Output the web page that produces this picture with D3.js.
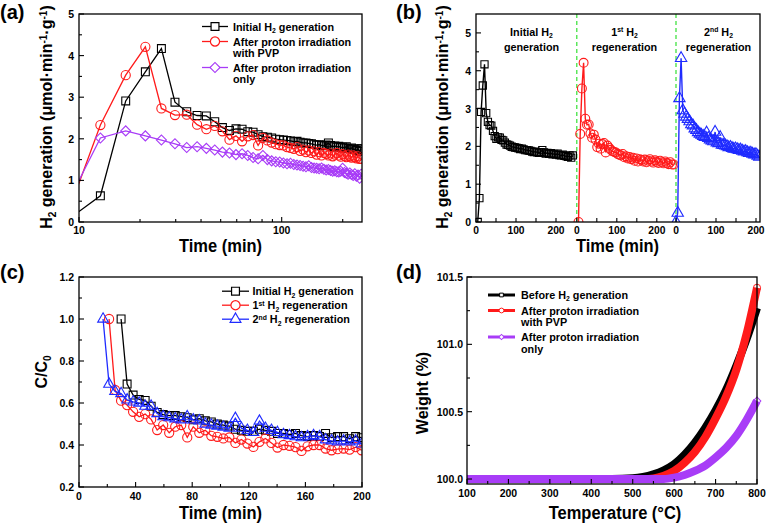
<!DOCTYPE html>
<html><head><meta charset="utf-8">
<script src="https://cdn.jsdelivr.net/npm/d3@7"></script>
<style>body{margin:0;background:#fff}svg{display:block}text{font-family:"Liberation Sans",Arial,sans-serif;font-weight:bold;fill:#000}</style>
</head><body><svg id="c" width="767" height="526"></svg>
<script>
// ---------------- DATA ----------------
const timeA = [8.5,12.75,17,21.25,25.5,29.75,34,38.25,42.5,46.75,51,55.25,59.5,63.75,68,72.25,76.5,80.75,85,89.25,93.5,97.75,102,106.25,110.5,114.75,119,123.25,127.5,131.75,136,140.25,144.5,148.75,153,157.25,161.5,165.75,170,174.25,178.5,182.75,187,191.25,195.5,199.75,204,208.25,212.5,216.75,221,225.25,229.5,233.75,238,242.25,246.5];
const initialH2 = [0,0.63,2.91,3.61,4.17,2.88,2.65,2.56,2.55,2.41,2.27,2.20,2.24,2.23,2.17,2.16,2.10,2.05,2.04,2.02,1.99,1.98,1.97,1.96,1.95,1.93,1.94,1.92,1.90,1.90,1.89,1.88,1.86,1.85,1.86,1.84,1.83,1.85,1.90,1.84,1.81,1.83,1.80,1.82,1.79,1.80,1.78,1.81,1.77,1.76,1.78,1.75,1.74,1.72,1.76,1.70,1.76];
const withPVP = [0,2.33,3.53,4.21,2.73,2.57,2.58,2.34,2.23,2.31,2.18,1.98,2.07,1.94,2.06,2.09,1.84,2.02,1.96,1.91,1.87,1.85,1.84,1.80,1.78,1.76,1.80,1.71,1.74,1.68,1.72,1.66,1.70,1.62,1.68,1.60,1.66,1.64,1.60,1.65,1.58,1.62,1.66,1.60,1.57,1.63,1.59,1.56,1.62,1.58,1.55,1.60,1.56,1.53,1.58,1.52,1.52];
const irradOnly = [0.32,2.02,2.19,2.07,1.97,1.88,1.79,1.81,1.77,1.73,1.68,1.66,1.62,1.64,1.60,1.55,1.52,1.60,1.50,1.47,1.45,1.44,1.42,1.40,1.41,1.38,1.37,1.36,1.34,1.33,1.35,1.31,1.30,1.29,1.28,1.30,1.27,1.25,1.26,1.24,1.22,1.23,1.21,1.20,1.22,1.29,1.19,1.17,1.15,1.18,1.14,1.12,1.16,1.10,1.13,1.05,1.15];
// panel (b): 2nd regeneration
const timeRegen2 = [0,4.25,8.5,12.75,17,21.25,25.5,29.75,34,38.25,42.5,46.75,51,55.25,59.5,63.75,68,72.25,76.5,80.75,85,89.25,93.5,97.75,102,106.25,110.5,114.75,119,123.25,127.5,131.75,136,140.25,144.5,148.75,153,157.25,161.5,165.75,170,174.25,178.5,182.75,187,191.25,195.5,199.75,204,208.25];
const regen2 = [0,0.24,3.27,4.33,2.95,2.86,2.78,2.72,2.66,2.58,2.55,2.47,2.43,2.37,2.33,2.30,2.27,2.24,2.36,2.22,2.18,2.15,2.13,2.38,2.10,2.08,2.24,2.04,2.03,2.02,2.00,1.97,1.98,1.95,1.93,1.94,1.92,1.90,1.91,1.88,1.86,1.87,1.84,1.82,1.83,1.80,1.78,1.79,1.75,1.72];
const segmentStart = [0,252,500];     // run start on the joined time axis of (b)
const runShift = 4.25;                // time offset of runs 1-2 in (b)
// panel (c)
const timeC_initial = timeA.slice(5, 46);
const cInitial = [1.0,0.69,0.638,0.617,0.612,0.585,0.555,0.545,0.54,0.54,0.535,0.53,0.52,0.525,0.515,0.51,0.50,0.495,0.49,0.475,0.47,0.465,0.465,0.475,0.47,0.465,0.455,0.455,0.45,0.455,0.445,0.44,0.445,0.44,0.455,0.435,0.44,0.44,0.43,0.44,0.435];
const timeC_regen1 = timeA.slice(3, 46);
const cRegen1 = [1.0,0.662,0.611,0.59,0.558,0.534,0.547,0.522,0.471,0.495,0.458,0.487,0.495,0.436,0.487,0.458,0.47,0.444,0.439,0.431,0.436,0.41,0.426,0.407,0.391,0.415,0.431,0.41,0.388,0.40,0.396,0.39,0.372,0.394,0.40,0.40,0.383,0.375,0.38,0.383,0.378,0.39,0.375];
const timeC_regen2 = timeA.slice(2, 46);
const cRegen2 = [1.0,0.69,0.655,0.645,0.615,0.605,0.60,0.585,0.585,0.55,0.535,0.53,0.525,0.52,0.535,0.52,0.515,0.50,0.495,0.49,0.485,0.48,0.527,0.48,0.47,0.46,0.514,0.48,0.47,0.46,0.45,0.445,0.44,0.435,0.44,0.445,0.44,0.425,0.42,0.415,0.42,0.415,0.42,0.405];
// panel (d)
const tempD = [100,200,300,400,450,500,525,550,575,600,625,650,675,700,725,750,775,800];
const wBefore = [100,100,100,100,100,100.005,100.015,100.035,100.065,100.11,100.18,100.27,100.38,100.51,100.66,100.84,101.04,101.27];
const wPVP = [100,100,100,100,100,100,100,100.005,100.025,100.06,100.12,100.2,100.31,100.45,100.61,100.81,101.08,101.42];
const wOnly = [100,100,100,100,100,100,100,100,100,100.01,100.03,100.06,100.1,100.16,100.23,100.32,100.44,100.58];
// ticks
const yTicksA = [0,1,2,3,4,5], xLabelsA = [10,100];
const yTicksB = [0,1,2,3,4,5], xLabelsB = [0,100,200], xTicksB = [0,50,100,150,200];
const yTicksC = [0.2,0.4,0.6,0.8,1.0,1.2], xTicksC = [0,40,80,120,160,200];
const yTicksD = [100.0,100.5,101.0,101.5], xTicksD = [100,200,300,400,500,600,700,800];

// ---------------- DRAW ----------------
const svg = d3.select("#c");
const BLACK="#000", RED="#ff1a1a", PURPLE="#a83cf7", BLUE="#1f2bff", GREEN="#33e033";

function rich(t, parts, fs){
  let shift=0;
  parts.forEach(p=>{
    const s=p[0], m=p[1]||'n';
    const target = m==='sub'? fs*0.22 : m==='sup'? -fs*0.34 : 0;
    const ts=t.append("tspan").text(s).attr("dy", target-shift);
    if(m!=='n') ts.attr("font-size", fs*0.63);
    shift=target;
  });
  return t;
}
function text(x,y,parts,fs,anchor){
  const t=svg.append("text").attr("x",x).attr("y",y).attr("font-size",fs).attr("text-anchor",anchor||"start");
  return rich(t,parts,fs);
}
function vtext(x,y,parts,fs){
  const t=svg.append("text").attr("transform",`translate(${x},${y}) rotate(-90)`).attr("font-size",fs).attr("text-anchor","middle");
  return rich(t,parts,fs);
}
function xtitle(x,y,s,fs){
  svg.append("text").attr("transform",`translate(${x},${y}) scale(1,1.1)`).attr("font-size",fs).attr("text-anchor","middle").text(s);
}
let clipN=0;
function clip(x0,x1,y0,y1){
  const id="cl"+(clipN++);
  svg.append("clipPath").attr("id",id).append("rect").attr("x",x0).attr("y",y0).attr("width",x1-x0).attr("height",y1-y0);
  return svg.append("g").attr("clip-path",`url(#${id})`);
}
function frame(x0,x1,y0,y1){
  svg.append("rect").attr("x",x0).attr("y",y0).attr("width",x1-x0).attr("height",y1-y0).attr("fill","none").attr("stroke","#000").attr("stroke-width",1.3);
}
function tickX(xs,vals,yb,len){ vals.forEach(v=>svg.append("line").attr("x1",xs(v)).attr("x2",xs(v)).attr("y1",yb).attr("y2",yb-len).attr("stroke","#000").attr("stroke-width",1.1)); }
function tickY(ys,vals,xl,len){ vals.forEach(v=>svg.append("line").attr("y1",ys(v)).attr("y2",ys(v)).attr("x1",xl).attr("x2",xl+len).attr("stroke","#000").attr("stroke-width",1.1)); }

const SQ = d3.symbol().type(d3.symbolSquare);
const CI = d3.symbol().type(d3.symbolCircle);
const TR = d3.symbol().type(d3.symbolTriangle);
function marker(g,x,y,kind,size,color,sw){
  let path, rot=0;
  if(kind==="sq") path=SQ.size(size)();
  else if(kind==="ci") path=CI.size(size)();
  else if(kind==="di"){ path=SQ.size(size)(); rot=45; }
  else path=TR.size(size)();
  g.append("path").attr("d",path).attr("transform",`translate(${x},${y}) rotate(${rot})`)
   .attr("fill","none").attr("stroke",color).attr("stroke-width",sw||1.1);
}
function series(g,xs,ys,ts,vs,color,kind,size,lw){
  const pts=ts.map((t,i)=>[xs(t),ys(vs[i])]);
  g.append("path").attr("d",d3.line()(pts)).attr("fill","none").attr("stroke",color).attr("stroke-width",lw||1.3);
  pts.forEach(p=>marker(g,p[0],p[1],kind,size,color));
}
function legendRow(x0,x1,y,color,kind,size,lw,msw){
  svg.append("line").attr("x1",x0).attr("x2",x1).attr("y1",y).attr("y2",y).attr("stroke",color).attr("stroke-width",lw);
  svg.append("path").attr("d", kind==="ci"?CI.size(size)(): kind==="tr"?TR.size(size)():SQ.size(size)())
   .attr("transform",`translate(${(x0+x1)/2},${y}) rotate(${kind==="di"?45:0})`).attr("fill","#fff").attr("stroke",color).attr("stroke-width",msw||1.2);
}

// ===== Panel (a) =====
{
  const L=79,R=362,T=14,B=222;
  const xs=d3.scaleLog().domain([10,249]).range([L,R]);
  const ys=d3.scaleLinear().domain([0,5]).range([B,T]);
  const g=clip(L,R,T,B);
  series(g,xs,ys,timeA,initialH2,BLACK,"sq",62);
  series(g,xs,ys,timeA,withPVP,RED,"ci",66);
  series(g,xs,ys,timeA,irradOnly,PURPLE,"di",50);
  frame(L,R,T,B);
  tickY(ys,yTicksA,L,5); tickY(ys,d3.range(0.5,5,1),L,3);
  const xt=xs.ticks(); tickX(xs,xt.filter(v=>xLabelsA.includes(v)),B,5); tickX(xs,xt.filter(v=>!xLabelsA.includes(v)),B,3);
  yTicksA.forEach(v=>text(L-5,ys(v)+4,[[String(v)]],10.5,"end"));
  xLabelsA.forEach(v=>text(xs(v),233.5,[[String(v)]],10.5,"middle"));
  xtitle((L+R)/2,251.5,"Time (min)",16.5);
  vtext(52,117,[["H"],["2","sub"],[" generation  (μmol·min"],["-1","sup"],["·g"],["-1","sup"],[")"]],16);
  text(0,19,[["(a)"]],20);
  legendRow(202,228,26.5,BLACK,"sq",62,1.3);
  legendRow(202,228,41.5,RED,"ci",66,1.3);
  legendRow(202,228,67.5,PURPLE,"di",50,1.3);
  text(233,30.5,[["Initial H"],["2","sub"],[" generation"]],10.8);
  text(233,45.5,[["After proton irradiation"]],10.8);
  text(233,56.5,[["with PVP"]],10.8);
  text(233,71.5,[["After proton irradiation"]],10.8);
  text(233,82.5,[["only"]],10.8);
}
// ===== Panel (b) =====
{
  const L=476,R=760,T=14,B=222;
  const xs=d3.scaleLinear().domain([0,710]).range([L,R]);
  const ys=d3.scaleLinear().domain([0,5.5]).range([B,T]);
  const g=clip(L,R,T,B);
  [1,2].forEach(i=>g.append("line").attr("x1",xs(segmentStart[i])).attr("x2",xs(segmentStart[i])).attr("y1",T).attr("y2",B)
     .attr("stroke",GREEN).attr("stroke-width",1.2).attr("stroke-dasharray","4,3"));
  series(g,xs,ys,timeA.map(t=>t-runShift+segmentStart[0]),initialH2,BLACK,"sq",52,1.4);
  series(g,xs,ys,timeA.map(t=>t-runShift+segmentStart[1]),withPVP,RED,"ci",62,1.4);
  series(g,xs,ys,timeRegen2.map(t=>t+segmentStart[2]),regen2,BLUE,"tr",56,1.4);
  frame(L,R,T,B);
  tickY(ys,yTicksB,L,5); tickY(ys,d3.range(0.5,5.5,1),L,3);
  segmentStart.forEach(o=>{
    tickX(xs,xTicksB.map(v=>v+o),B,4);
    xLabelsB.forEach(v=>text(xs(v+o),233.5,[[String(v)]],10.3,"middle"));
  });
  yTicksB.forEach(v=>text(L-5,ys(v)+4,[[String(v)]],10.5,"end"));
  xtitle(617.5,251.5,"Time (min)",16.5);
  vtext(448,117,[["H"],["2","sub"],[" generation  (μmol·min"],["-1","sup"],["·g"],["-1","sup"],[")"]],16);
  text(396,19,[["(b)"]],20);
  text(531.5,35.5,[["Initial H"],["2","sub"]],10.8,"middle");
  text(531.5,50.5,[["generation"]],10.8,"middle");
  text(624.5,35.5,[["1"],["st","sup"],[" H"],["2","sub"]],10.8,"middle");
  text(624.5,50.5,[["regeneration"]],10.8,"middle");
  text(718.5,35.5,[["2"],["nd","sup"],[" H"],["2","sub"]],10.8,"middle");
  text(718.5,50.5,[["regeneration"]],10.8,"middle");
}
// ===== Panel (c) =====
{
  const L=79,R=362,T=277,B=487;
  const xs=d3.scaleLinear().domain([0,200]).range([L,R]);
  const ys=d3.scaleLinear().domain([0.2,1.2]).range([B,T]);
  const g=clip(L,R,T,B);
  series(g,xs,ys,timeC_initial,cInitial,BLACK,"sq",62);
  series(g,xs,ys,timeC_regen1,cRegen1,RED,"ci",66);
  series(g,xs,ys,timeC_regen2,cRegen2,BLUE,"tr",50);
  frame(L,R,T,B);
  tickY(ys,yTicksC,L,5); tickY(ys,d3.range(0.3,1.2,0.2),L,3);
  tickX(xs,xTicksC,B,5); tickX(xs,d3.range(20,200,40),B,3);
  yTicksC.forEach(v=>text(L-5,ys(v)+4,[[v.toFixed(1)]],10.5,"end"));
  xTicksC.forEach(v=>text(xs(v),499.5,[[String(v)]],10.5,"middle"));
  xtitle((L+R)/2,518.5,"Time (min)",16.5);
  vtext(47,372,[["C/C"],["0","sub"]],16);
  text(0,279,[["(c)"]],20);
  legendRow(222,249,291.2,BLACK,"sq",62,1.3);
  legendRow(222,249,305.2,RED,"ci",66,1.3);
  legendRow(222,249,319.2,BLUE,"tr",50,1.3);
  text(252.5,295.2,[["Initial H"],["2","sub"],[" generation"]],10.8);
  text(252.5,309.2,[["1"],["st","sup"],[" H"],["2","sub"],[" regeneration"]],10.8);
  text(252.5,323.2,[["2"],["nd","sup"],[" H"],["2","sub"],[" regeneration"]],10.8);
}
// ===== Panel (d) =====
{
  const L=467,R=757,T=277,B=484;
  const xs=d3.scaleLinear().domain([100,800]).range([L,R]);
  const ys=d3.scaleLinear().domain([99.963,101.5]).range([B,T]);
  const g=clip(L,R+6,T-6,B);
  const line=d3.line().curve(d3.curveMonotoneX);
  [[wBefore,BLACK],[wPVP,RED],[wOnly,PURPLE]].forEach(([vs,c])=>{
    g.append("path").attr("d",line(tempD.map((t,i)=>[xs(t),ys(vs[i])]))).attr("fill","none").attr("stroke",c).attr("stroke-width",8);
  });
  marker(g,xs(800),ys(wPVP[wPVP.length-1]),"ci",40,RED,1);
  marker(g,xs(800),ys(wOnly[wOnly.length-1]),"di",30,PURPLE,1);
  frame(L,R,T,B);
  tickY(ys,yTicksD,L,5); tickY(ys,[100.25,100.75,101.25],L,3);
  tickX(xs,xTicksD,B,5); tickX(xs,d3.range(150,800,100),B,3);
  yTicksD.forEach(v=>text(L-4,ys(v)+4,[[v.toFixed(1)]],10.5,"end"));
  xTicksD.forEach(v=>text(xs(v),497,[[String(v)]],10.5,"middle"));
  xtitle(615,518.5,"Temperature (°C)",16.5);
  vtext(428,393,[["Weight (%)"]],16);
  text(396,279,[["(d)"]],20);
  legendRow(488,515,295,BLACK,"sq",14,3,1);
  legendRow(488,515,310.5,RED,"ci",18,3,1);
  legendRow(488,515,337,PURPLE,"di",14,3,1);
  text(521,299,[["Before H"],["2","sub"],[" generation"]],10.8);
  text(521,314.5,[["After proton irradiation"]],10.8);
  text(521,326,[["with PVP"]],10.8);
  text(521,341,[["After proton irradiation"]],10.8);
  text(521,353,[["only"]],10.8);
}
</script></body></html>
